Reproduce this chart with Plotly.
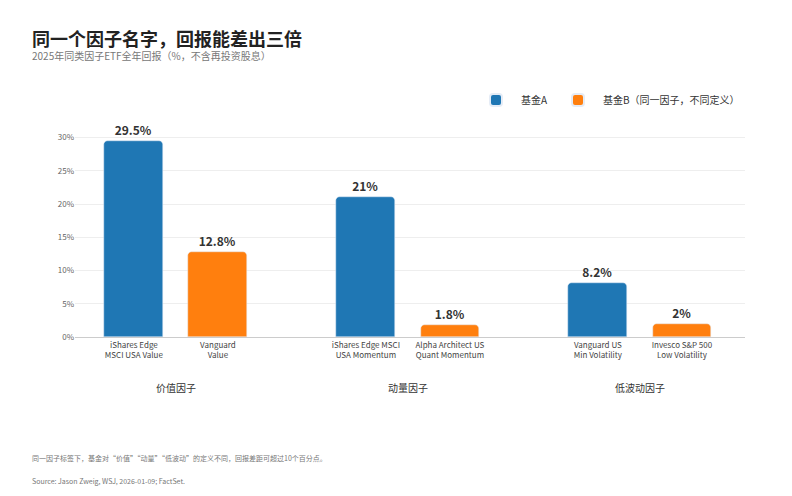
import plotly.graph_objects as go

groups = ["价值因子", "动量因子", "低波动因子"]
fund_a = ["iShares Edge<br>MSCI USA Value", "iShares Edge MSCI<br>USA Momentum", "Vanguard US<br>Min Volatility"]
fund_b = ["Vanguard<br>Value", "Alpha Architect US<br>Quant Momentum", "Invesco S&P 500<br>Low Volatility"]
ret_a = [29.5, 21, 8.2]
ret_b = [12.8, 1.8, 2]
y_ticks = [0, 5, 10, 15, 20, 25, 30]

# group centres along a numeric axis, two bars per group
centres = [0.5, 3.26, 6.02]
xa = [c - 0.5 for c in centres]
xb = [c + 0.5 for c in centres]

FONT = "Noto Sans CJK SC"
BLUE = "#1f77b4"
ORANGE = "#ff7f0e"
OFF = 8  # page offset seen in the screenshot

fig = go.Figure()
fig.add_trace(go.Bar(x=xa, y=ret_a, name="基金A", marker=dict(color=BLUE, cornerradius=4),
                     width=0.7, text=[f"<b>{v:g}%</b>" for v in ret_a], textposition="outside",
                     textfont=dict(size=12, color="#333", family=FONT), cliponaxis=False))
fig.add_trace(go.Bar(x=xb, y=ret_b, name="基金B（同一因子，不同定义）", marker=dict(color=ORANGE, cornerradius=4),
                     width=0.7, text=[f"<b>{v:g}%</b>" for v in ret_b], textposition="outside",
                     textfont=dict(size=12, color="#333", family=FONT), cliponaxis=False))

L, R, T, B = 75 - OFF, 47 + OFF, 131 - OFF, 159 + OFF
fig.update_layout(
    width=792, height=496,
    font=dict(family=FONT, size=9, color="#555"),
    plot_bgcolor="white", paper_bgcolor="white",
    margin=dict(l=L, r=R, t=T, b=B),
    bargap=0,
    legend=dict(orientation="h", x=1, xanchor="right", y=1.08, yanchor="bottom",
                font=dict(size=10, color="#333"), itemwidth=40, itemsizing="constant"),
    xaxis=dict(range=[-0.7, 7.27], tickvals=xa + xb, ticktext=fund_a + fund_b,
               showgrid=False, showline=True, linecolor="#ccc", ticks="",
               tickfont=dict(size=8, color="#444")),
    yaxis=dict(range=[0, 31], tickvals=y_ticks, ticktext=[f"{v}%" for v in y_ticks],
               gridcolor="#eee", zeroline=False, tickfont=dict(size=8, color="#666")),
)

ph = 496 - T - B
pw = 792 - L - R
def px(xp, yp):
    return (xp - OFF - L) / pw, (496 - B - (yp - OFF)) / ph

for c, g in zip(centres, groups):
    fig.add_annotation(x=c, y=0, xref="x", yref="paper", yshift=-60, text=g, showarrow=False,
                       font=dict(size=10, color="#333"))
x0, y0 = px(30, 23)
fig.add_annotation(x=x0, y=y0, xref="paper", yref="paper", xanchor="left", yanchor="top", showarrow=False,
                   text="<b>同一个因子名字，回报能差出三倍</b>", font=dict(size=18, color="#222"))
x1, y1 = px(30, 46)
fig.add_annotation(x=x1, y=y1, xref="paper", yref="paper", xanchor="left", yanchor="top", showarrow=False,
                   text="2025年同类因子ETF全年回报（%，不含再投资股息）", font=dict(size=10, color="#777"))
x2, y2 = px(30, 451)
fig.add_annotation(x=x2, y=y2, xref="paper", yref="paper", xanchor="left", yanchor="top", showarrow=False,
                   text="同一因子标签下，基金对“价值”“动量”“低波动”的定义不同，回报差距可超过10个百分点。",
                   font=dict(size=7, color="#777"))
x3, y3 = px(30, 474)
fig.add_annotation(x=x3, y=y3, xref="paper", yref="paper", xanchor="left", yanchor="top", showarrow=False,
                   text="Source: Jason Zweig, WSJ, 2026-01-09; FactSet.", font=dict(size=7, color="#777"))

fig.write_html("out.html")
